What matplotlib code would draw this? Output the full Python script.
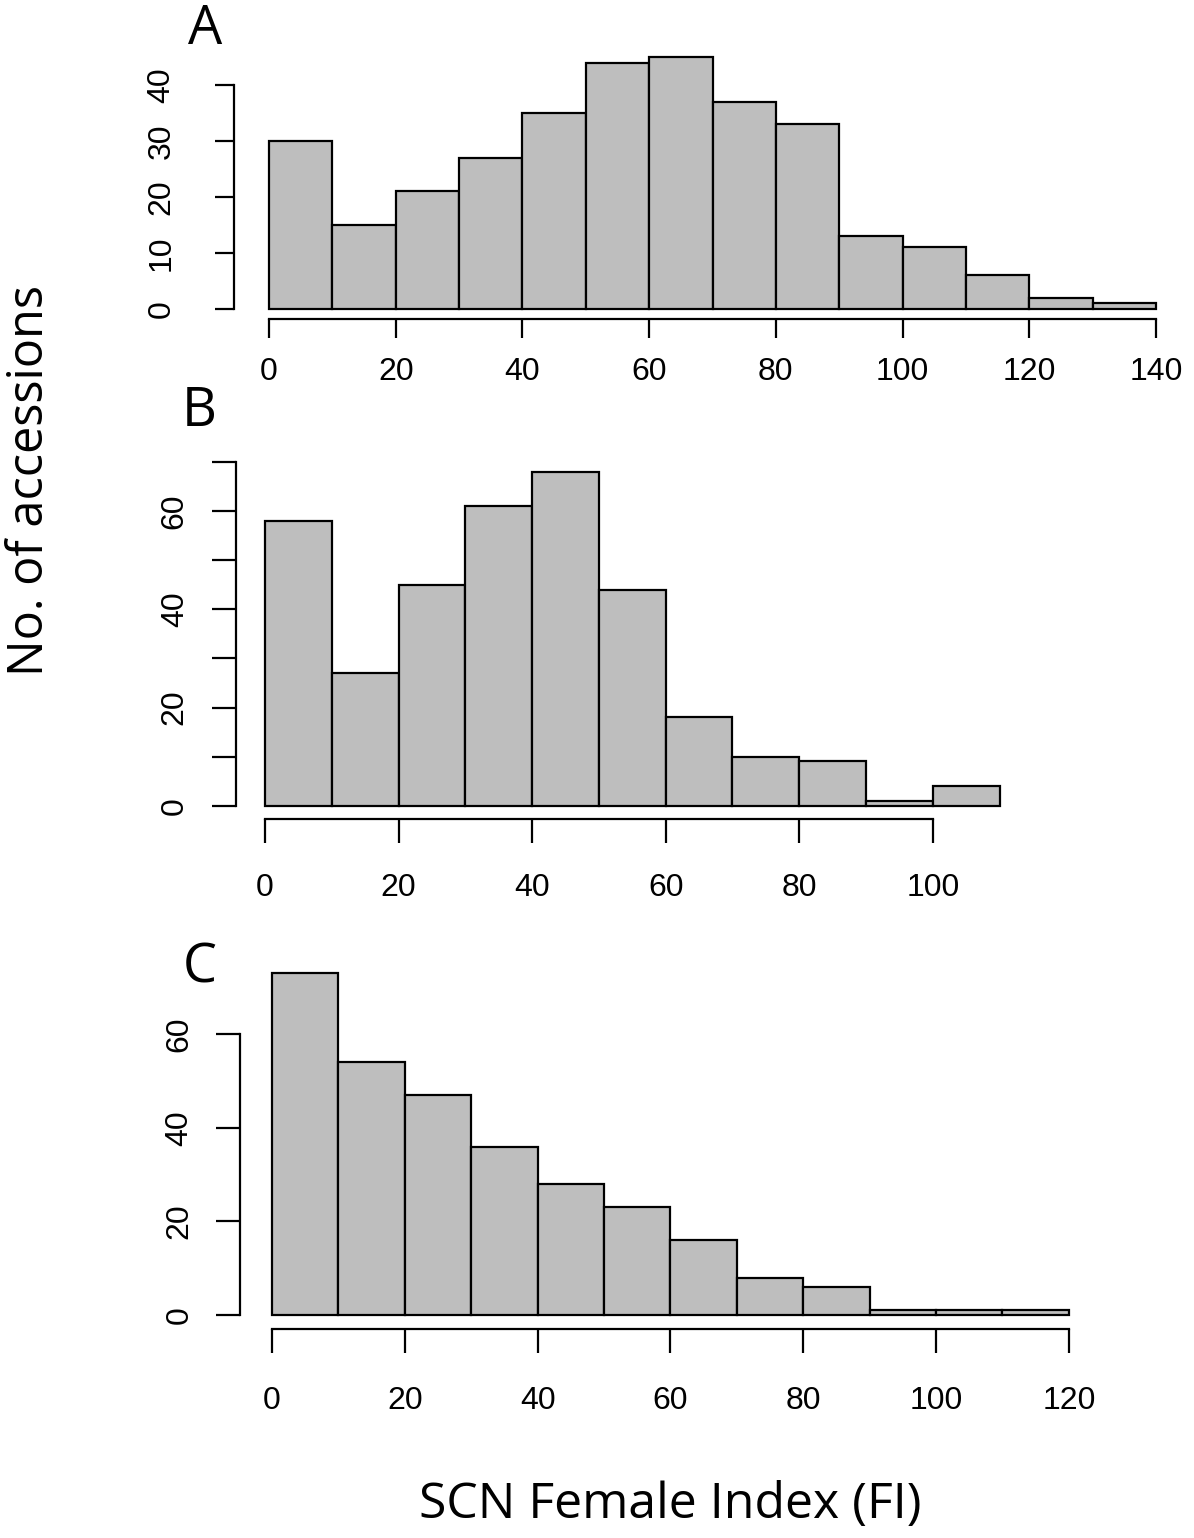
import numpy as np
import matplotlib
matplotlib.use("Agg")
import matplotlib.pyplot as plt

# --- dados (contagens por classe de 10) ---
counts_a = [30, 15, 21, 27, 35, 44, 45, 37, 33, 13, 11, 6, 2, 1]
counts_b = [58, 27, 45, 61, 68, 44, 18, 10, 9, 1, 4]
counts_c = [73, 54, 47, 36, 28, 23, 16, 8, 6, 1, 1, 1]
bin_width = 10

xticks_a = [0, 20, 40, 60, 80, 100, 120, 140]
xticks_b = [0, 20, 40, 60, 80, 100]
xticks_c = [0, 20, 40, 60, 80, 100, 120]
yticks_a = [0, 10, 20, 30, 40]
yticks_b = [0, 10, 20, 30, 40, 50, 60, 70]
yticks_c = [0, 20, 40, 60]

panel_letters = ["A", "B", "C"]

W, H = 1194, 1538
fig = plt.figure(figsize=(W / 100, H / 100), dpi=100)

TICK_FONT = "Liberation Sans"
LABEL_FONT = "Open Sans"

# caixas (em pixels: esquerda, direita, topo, base)
boxes = [
    (233.5, 1191.5, 47, 319),
    (235.6, 1029.0, 458.6, 819),
    (240.1, 1100.7, 959.8, 1328.7),
]
xpads = [13, 22, 24]
ypads = [27, 16, 16]
ticklens = [14, 17, 17]

panels = [
    (counts_a, xticks_a, yticks_a),
    (counts_b, xticks_b, yticks_b),
    (counts_c, xticks_c, yticks_c),
]

for i, ((counts, xt, yt), (l, r, t, b)) in enumerate(zip(panels, boxes)):
    ax = fig.add_axes([l / W, (H - b) / H, (r - l) / W, (b - t) / H])
    lefts = np.arange(len(counts)) * bin_width
    ax.bar(lefts, counts, width=bin_width, align="edge", color="#bebebe",
           edgecolor="black", linewidth=1.6)
    xmax = len(counts) * bin_width
    ymax = max(counts)
    ax.set_xlim(-0.04 * xmax, xmax * 1.04)
    ax.set_ylim(-0.04 * ymax, ymax * 1.04)
    ax.spines[["top", "right"]].set_visible(False)
    for s in ("left", "bottom"):
        ax.spines[s].set_linewidth(1.6)
    ax.spines["bottom"].set_bounds(xt[0], xt[-1])
    ax.spines["left"].set_bounds(yt[0], yt[-1])
    ax.set_xticks(xt)
    ax.set_xticklabels([str(v) for v in xt], fontsize=23, family=TICK_FONT)
    ax.set_yticks(yt)
    ylabs = [str(v) if v % 20 == 0 or i == 0 else "" for v in yt]
    ax.set_yticklabels(ylabs, fontsize=23, family=TICK_FONT, rotation=90,
                       va="center")
    ax.tick_params(axis="x", length=ticklens[i], width=1.6, pad=xpads[i])
    ax.tick_params(axis="y", length=ticklens[i], width=1.6, pad=ypads[i])

# letras dos paineis
letter_pos = [(205, 30), (199, 412), (200, 968)]
for letter, (px, py) in zip(panel_letters, letter_pos):
    fig.text(px / W, 1 - py / H, letter, fontsize=39, family=LABEL_FONT,
             ha="center", va="center")

fig.text(30 / W, 1 - 480 / H, "No. of accessions", fontsize=35,
         family=LABEL_FONT, rotation=90, ha="center", va="center")
fig.text(670 / W, 1 - 1505 / H, "SCN Female Index (FI)", fontsize=36,
         family=LABEL_FONT, ha="center", va="center")

fig.savefig("out.png", dpi=100)
